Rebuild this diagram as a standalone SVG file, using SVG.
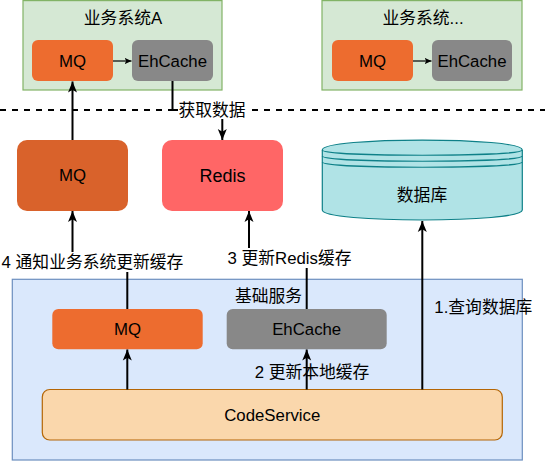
<svg xmlns="http://www.w3.org/2000/svg" width="545" height="461" viewBox="0 0 545 461">
<style>
text{font-family:"Liberation Sans","Noto Sans CJK SC",sans-serif;font-size:16.8px;fill:#000;text-anchor:middle;dominant-baseline:central}
.sys{fill:#d5e8d4;stroke:#82b366;stroke-width:1.2}
.mq{fill:#ed6c2f}
.eh{fill:#888888}
.conn{fill:none;stroke:#000;stroke-width:2}
.thin{fill:none;stroke:#000;stroke-width:1.2}
.lblbg{fill:#ffffff}
</style>
<defs>
<marker id="arr" markerUnits="userSpaceOnUse" markerWidth="12" markerHeight="10" refX="11" refY="5" orient="auto">
<path d="M0,0.5 L11,5 L0,9.5 L2.8,5 Z" fill="#000"/>
</marker>
<marker id="arrs" markerUnits="userSpaceOnUse" markerWidth="8" markerHeight="8" refX="7" refY="4" orient="auto">
<path d="M0,0.8 L7,4 L0,7.2 L1.8,4 Z" fill="#000"/>
</marker>
</defs>

<!-- dashed separator -->
<line x1="0" y1="110" x2="545" y2="110" stroke="#000" stroke-width="2" stroke-dasharray="6 6"/>

<g id="sysA">
<rect class="sys" x="23" y="0.6" width="199" height="89.4"/>
<text x="123" y="18.5">业务系统A</text>
</g>
<g id="sysA-mq">
<rect class="mq" x="32" y="40" width="81" height="41" rx="6"/>
<text x="72.5" y="61">MQ</text>
</g>
<g id="sysA-eh">
<rect class="eh" x="132" y="40" width="81" height="41" rx="6"/>
<text x="172.5" y="61">EhCache</text>
</g>

<g id="sysB">
<rect class="sys" x="322" y="0.6" width="200" height="89.4"/>
<text x="423" y="18.5">业务系统...</text>
</g>
<g id="sysB-mq">
<rect class="mq" x="332" y="40" width="81" height="41" rx="6"/>
<text x="372.5" y="61">MQ</text>
</g>
<g id="sysB-eh">
<rect class="eh" x="432" y="40" width="80" height="41" rx="6"/>
<text x="472" y="61">EhCache</text>
</g>

<g id="mq-main">
<rect x="17" y="140" width="111" height="71" rx="10" fill="#d9622b"/>
<text x="72.5" y="175.5">MQ</text>
</g>
<g id="redis">
<rect x="162" y="140" width="121" height="71" rx="10" fill="#ff6666"/>
<text x="222.5" y="176" style="font-size:18px">Redis</text>
</g>
<g id="db">
<path d="M322.3,150 C322.3,136.7 522.3,136.7 522.3,150 L522.3,210 C522.3,223.3 322.3,223.3 322.3,210 Z" fill="#b0e3e6" stroke="#0e8088" stroke-width="1.2"/>
<path d="M322.3,150 C322.3,157 522.3,157 522.3,150 M322.3,156 C322.3,163 522.3,163 522.3,156 M322.3,162 C322.3,169 522.3,169 522.3,162" fill="none" stroke="#0e8088" stroke-width="1.2"/>
<text x="422" y="195">数据库</text>
</g>

<g id="base">
<rect x="12.3" y="279.3" width="510" height="180.7" fill="#dae8fc" stroke="#6c8ebf" stroke-width="1.2"/>
<text x="268.5" y="296">基础服务</text>
</g>
<g id="base-mq">
<rect class="mq" x="52.3" y="309" width="150.4" height="40.3" rx="6"/>
<text x="127.5" y="329.5">MQ</text>
</g>
<g id="base-eh">
<rect class="eh" x="226.7" y="309" width="160" height="40.3" rx="6"/>
<text x="306.7" y="329.5">EhCache</text>
</g>
<g id="codeservice">
<rect x="42.3" y="389.5" width="460" height="50.5" rx="7.5" fill="#fad7ac" stroke="#b46504" stroke-width="1.2"/>
<text x="272.3" y="415">CodeService</text>
</g>

<g id="connectors">
<line class="thin" x1="113" y1="61" x2="131.5" y2="61" marker-end="url(#arrs)"/>
<line class="thin" x1="413" y1="61" x2="431.5" y2="61" marker-end="url(#arrs)"/>
<line class="conn" x1="72.5" y1="140" x2="72.5" y2="81.5" marker-end="url(#arr)"/>
<path class="conn" d="M172.5,81 V110 H222.3 V140" marker-end="url(#arr)"/>
<path class="conn" d="M127.3,309 V262 H72.5 V211" marker-end="url(#arr)"/>
<path class="conn" d="M306.7,309 V258 H249 V211" marker-end="url(#arr)"/>
<line class="conn" x1="422.3" y1="389.5" x2="422.3" y2="221" marker-end="url(#arr)"/>
<line class="conn" x1="127.3" y1="389.5" x2="127.3" y2="349.5" marker-end="url(#arr)"/>
<line class="conn" x1="306.7" y1="389.5" x2="306.7" y2="349.5" marker-end="url(#arr)"/>

<rect class="lblbg" x="178" y="101" width="68" height="18"/>
<text x="212" y="110">获取数据</text>
<rect class="lblbg" x="1" y="252" width="183" height="20"/>
<text x="92.5" y="262">4 通知业务系统更新缓存</text>
<rect class="lblbg" x="226" y="248" width="127" height="20"/>
<text x="289.5" y="258">3 更新Redis缓存</text>
<text x="312" y="372">2 更新本地缓存</text>
<text x="483.3" y="307">1.查询数据库</text>
</g>
</svg>
